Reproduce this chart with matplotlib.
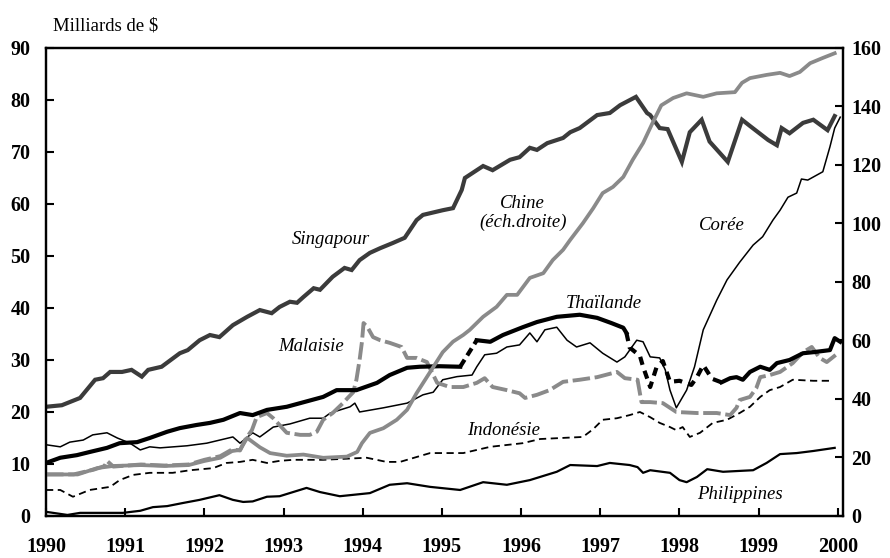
import matplotlib
matplotlib.use("Agg")
import matplotlib.pyplot as plt

# Réserves de change, milliards de $ (Chine sur l'échelle de droite)
sg_x = [1990.0, 1990.2, 1990.43, 1990.62, 1990.72, 1990.81, 1990.96, 1991.08, 1991.21, 1991.29,
        1991.46, 1991.69, 1991.79, 1991.94, 1992.07, 1992.19, 1992.36, 1992.54, 1992.7, 1992.85,
        1992.95, 1993.08, 1993.17, 1993.25, 1993.38, 1993.46, 1993.62, 1993.77, 1993.86, 1993.96,
        1994.09, 1994.22, 1994.38, 1994.53, 1994.68, 1994.76, 1995.01, 1995.14, 1995.25, 1995.29,
        1995.52, 1995.64, 1995.86, 1995.98, 1996.11, 1996.2, 1996.33, 1996.53, 1996.62, 1996.74,
        1996.96, 1997.12, 1997.25, 1997.45, 1997.59, 1997.63, 1997.75, 1997.85, 1998.03, 1998.13,
        1998.28, 1998.38, 1998.61, 1998.79, 1998.89, 1999.12, 1999.23, 1999.29, 1999.39, 1999.56,
        1999.69, 1999.87, 1999.96]
sg_y = [21.0, 21.3, 22.7, 26.2, 26.5, 27.7, 27.7, 28.1, 26.8, 28.1,
        28.7, 31.3, 31.9, 33.8, 34.8, 34.4, 36.7, 38.3, 39.6, 39.0,
        40.2, 41.2, 41.0, 42.1, 43.8, 43.5, 46.0, 47.7, 47.3, 49.2,
        50.6, 51.5, 52.5, 53.5, 56.9, 57.9, 58.8, 59.2, 62.7, 65.0,
        67.3, 66.5, 68.5, 69.0, 70.8, 70.4, 71.7, 72.7, 73.8, 74.6,
        77.1, 77.5, 79.0, 80.6, 77.5, 77.1, 74.6, 74.4, 68.1, 73.8,
        76.2, 72.0, 68.1, 76.2, 75.0, 72.3, 71.3, 74.6, 73.6, 75.6,
        76.2, 74.2, 76.9]

cn_x = [1990.0, 1990.4, 1990.65, 1990.85, 1991.2, 1991.5, 1991.8, 1992.0, 1992.2, 1992.35,
        1992.45, 1992.54, 1992.7, 1992.83, 1993.04, 1993.25, 1993.5, 1993.8, 1993.93, 1993.99,
        1994.09, 1994.26, 1994.43, 1994.56, 1994.68, 1994.85, 1995.01, 1995.14, 1995.27, 1995.35,
        1995.52, 1995.69, 1995.82, 1995.95, 1996.11, 1996.28, 1996.4, 1996.53, 1996.62, 1996.78,
        1996.91, 1997.03, 1997.16, 1997.29, 1997.41, 1997.54, 1997.66, 1997.77, 1997.92, 1998.09,
        1998.3, 1998.47, 1998.7, 1998.79, 1998.89, 1999.1, 1999.27, 1999.39, 1999.52, 1999.65,
        1999.81, 1999.96]
cn_y = [14.2, 14.2, 16.4, 17.1, 17.4, 17.1, 17.4, 18.8, 19.9, 22.2,
        22.6, 26.7, 23.5, 21.5, 20.6, 21.0, 19.9, 20.3, 21.9, 24.9,
        28.4, 30.0, 32.9, 36.3, 42.0, 49.2, 56.0, 59.6, 61.9, 63.6,
        68.1, 71.5, 75.6, 75.6, 81.4, 83.0, 87.5, 91.0, 94.4, 100.1,
        105.2, 110.4, 112.5, 115.9, 121.8, 127.5, 134.4, 140.4, 142.9, 144.5,
        143.3, 144.5, 144.9, 148.1, 149.7, 150.8, 151.5, 150.4, 151.8, 154.8,
        156.6, 158.2]

kr_x = [1990.0, 1990.18, 1990.3, 1990.47, 1990.59, 1990.77, 1990.9, 1991.06, 1991.19, 1991.31,
        1991.44, 1991.78, 1992.03, 1992.36, 1992.45, 1992.61, 1992.7, 1992.87, 1993.08, 1993.33,
        1993.5, 1993.59, 1993.84, 1993.9, 1993.96, 1994.26, 1994.56, 1994.76, 1994.89, 1995.01,
        1995.19, 1995.38, 1995.44, 1995.54, 1995.69, 1995.82, 1995.98, 1996.11, 1996.2, 1996.3,
        1996.45, 1996.58, 1996.7, 1996.87, 1997.03, 1997.21, 1997.31, 1997.46, 1997.54, 1997.63,
        1997.75, 1997.82, 1997.88, 1997.96, 1998.09, 1998.19, 1998.3, 1998.47, 1998.6, 1998.76,
        1998.93, 1999.05, 1999.18, 1999.27, 1999.37, 1999.48, 1999.54, 1999.62, 1999.81, 1999.9,
        1999.96, 2000.03]
kr_y = [13.7, 13.3, 14.2, 14.6, 15.6, 16.0, 15.0, 14.0, 12.7, 13.3,
        13.1, 13.5, 14.0, 15.2, 14.0, 16.0, 15.2, 17.1, 17.7, 18.8,
        18.8, 19.8, 21.0, 21.7, 20.0, 20.8, 21.7, 23.3, 23.8, 26.2,
        26.8, 27.1, 28.7, 31.0, 31.3, 32.5, 32.9, 35.2, 33.5, 35.8,
        36.3, 33.8, 32.5, 33.3, 31.3, 29.6, 30.6, 33.8, 33.5, 30.6,
        30.4, 28.1, 24.2, 20.8, 24.2, 28.7, 35.8, 41.5, 45.4, 48.8,
        52.1, 53.7, 56.9, 58.8, 61.3, 62.1, 64.8, 64.6, 66.2, 71.0,
        74.6, 76.7]

th_x = [1990.0, 1990.18, 1990.39, 1990.55, 1990.77, 1990.93, 1991.15, 1991.31, 1991.53, 1991.69,
        1991.9, 1992.07, 1992.24, 1992.45, 1992.61, 1992.79, 1993.04, 1993.5, 1993.67, 1993.92,
        1994.18, 1994.34, 1994.56, 1994.72, 1994.97, 1995.23, 1995.44, 1995.61, 1995.77, 1996.02,
        1996.2, 1996.45, 1996.74, 1996.96, 1997.14, 1997.29, 1997.33, 1997.37, 1997.5, 1997.54,
        1997.63, 1997.71, 1997.79, 1997.88, 1998.0, 1998.15, 1998.22, 1998.3, 1998.41, 1998.53,
        1998.64, 1998.72, 1998.8, 1998.89, 1999.02, 1999.14, 1999.23, 1999.39, 1999.56, 1999.69,
        1999.9, 1999.96, 2000.03]
th_y = [10.2, 11.2, 11.7, 12.3, 13.1, 14.0, 14.2, 15.0, 16.2, 16.9,
        17.5, 17.9, 18.5, 19.8, 19.4, 20.4, 21.0, 22.9, 24.2, 24.2,
        25.6, 27.1, 28.5, 28.7, 28.8, 28.7, 33.8, 33.5, 34.8, 36.3,
        37.3, 38.3, 38.7, 38.1, 37.1, 36.2, 35.2, 32.4, 30.8, 28.7,
        24.8, 28.6, 29.8, 25.8, 26.0, 25.2, 26.7, 29.0, 26.4, 25.7,
        26.5, 26.7, 26.2, 27.7, 28.7, 28.1, 29.4, 30.0, 31.3, 31.5,
        31.9, 34.2, 33.5]

my_x = [1990.0, 1990.35, 1990.6, 1990.74, 1990.77, 1990.85, 1991.2, 1991.5, 1991.8, 1992.0,
        1992.2, 1992.35, 1992.45, 1992.52, 1992.6, 1992.66, 1992.79, 1992.87, 1993.04, 1993.21,
        1993.33, 1993.42, 1993.5, 1993.62, 1993.75, 1993.81, 1993.88, 1993.92, 1993.96, 1993.99,
        1994.01, 1994.06, 1994.13, 1994.22, 1994.34, 1994.49, 1994.56, 1994.68, 1994.81, 1994.94,
        1995.1, 1995.27, 1995.44, 1995.54, 1995.64, 1995.82, 1995.98, 1996.05, 1996.2, 1996.36,
        1996.53, 1996.74, 1996.96, 1997.21, 1997.31, 1997.47, 1997.52, 1997.63, 1997.79, 1997.96,
        1998.22, 1998.47, 1998.64, 1998.72, 1998.76, 1998.89, 1998.97, 1999.02, 1999.14, 1999.27,
        1999.43, 1999.56, 1999.67, 1999.77, 1999.86, 2000.0]
my_y = [8.0, 8.0, 8.9, 9.6, 10.6, 9.5, 9.9, 9.7, 9.9, 10.8,
        11.5, 12.8, 12.6, 14.8, 16.5, 19.0, 19.8, 18.8, 16.0, 15.6,
        15.6, 16.2, 18.5, 19.8, 21.7, 22.7, 23.8, 26.2, 30.0, 33.5,
        37.1, 36.3, 34.4, 33.8, 33.3, 32.5, 30.4, 30.4, 29.6, 25.6,
        24.8, 24.8, 25.6, 26.5, 24.8, 24.2, 23.6, 22.7, 23.3, 24.2,
        25.8, 26.2, 26.7, 27.7, 26.5, 26.2, 21.9, 21.9, 21.7, 20.0,
        19.8, 19.8, 19.4, 20.8, 22.3, 22.9, 24.6, 26.7, 27.1, 27.7,
        29.4, 31.5, 32.5, 30.4, 29.6, 31.3]

id_x = [1990.0, 1990.18, 1990.34, 1990.55, 1990.81, 1990.93, 1991.1, 1991.31, 1991.6, 1991.82,
        1992.11, 1992.28, 1992.45, 1992.61, 1992.79, 1992.95, 1993.12, 1993.5, 1994.05, 1994.3,
        1994.47, 1994.85, 1995.27, 1995.61, 1996.02, 1996.24, 1996.78, 1996.91, 1997.03, 1997.21,
        1997.37, 1997.5, 1997.63, 1997.75, 1997.88, 1997.96, 1998.04, 1998.13, 1998.26, 1998.42,
        1998.6, 1998.76, 1998.89, 1999.02, 1999.14, 1999.27, 1999.43, 1999.69, 1999.9]
id_y = [5.0, 5.0, 3.7, 5.0, 5.6, 6.9, 7.9, 8.3, 8.3, 8.8,
        9.2, 10.2, 10.4, 10.8, 10.2, 10.6, 10.8, 10.8, 11.2, 10.4,
        10.4, 12.1, 12.1, 13.3, 14.0, 14.8, 15.2, 16.7, 18.5, 18.8,
        19.4, 20.0, 19.0, 17.9, 17.1, 16.5, 17.1, 15.2, 16.0, 17.9,
        18.5, 19.8, 21.0, 22.9, 24.2, 24.8, 26.2, 26.0, 26.0]

ph_x = [1990.0, 1990.27, 1990.43, 1990.97, 1991.19, 1991.35, 1991.53, 1991.73, 1991.94, 1992.19,
        1992.36, 1992.49, 1992.61, 1992.79, 1992.95, 1993.12, 1993.29, 1993.46, 1993.71, 1994.09,
        1994.34, 1994.56, 1994.85, 1995.23, 1995.52, 1995.82, 1996.11, 1996.45, 1996.62, 1996.96,
        1997.12, 1997.37, 1997.47, 1997.54, 1997.63, 1997.88, 1998.0, 1998.09, 1998.22, 1998.35,
        1998.55, 1998.8, 1998.93, 1999.1, 1999.27, 1999.48, 1999.69, 1999.96]
ph_y = [0.8, 0.2, 0.6, 0.6, 1.0, 1.7, 1.9, 2.5, 3.1, 4.0,
        3.1, 2.7, 2.8, 3.7, 3.8, 4.6, 5.4, 4.6, 3.8, 4.4,
        6.0, 6.3, 5.6, 5.0, 6.5, 6.0, 6.9, 8.5, 9.8, 9.6,
        10.2, 9.8, 9.4, 8.3, 8.8, 8.3, 6.9, 6.5, 7.5, 9.0,
        8.5, 8.7, 8.8, 10.2, 11.9, 12.1, 12.5, 13.1]

years = list(range(1990, 2001))
left_ticks = list(range(0, 91, 10))
right_ticks = list(range(0, 161, 20))

plt.rcParams['font.family'] = ['Liberation Serif', 'DejaVu Serif']
plt.rcParams['font.weight'] = 'bold'

dark = '#3b3b3b'
grey = '#8a8a8a'


def part(axis, xs, ys, lo, hi, **kw):
    # trace seulement la portion de la série entre lo et hi
    px = [x for x in xs if lo <= x <= hi]
    py = [y for x, y in zip(xs, ys) if lo <= x <= hi]
    axis.plot(px, py, **kw)


fig = plt.figure(figsize=(8.9, 5.58), dpi=100)
ax = fig.add_axes([0.0517, 0.0753, 0.8955, 0.8387])
ax2 = ax.twinx()

ax.plot(ph_x, ph_y, color='black', lw=1.6, solid_joinstyle='round')
ax.plot(id_x, id_y, color='black', lw=1.3, dashes=(4, 2.5))
ax.plot(kr_x, kr_y, color='black', lw=1.1)
ax.plot(my_x, my_y, color=grey, lw=2.8, dashes=(4.5, 1.2))
part(ax, th_x, th_y, 1989, 1995.23, color='black', lw=3.0)
part(ax, th_x, th_y, 1995.23, 1995.44, color='black', lw=3.0, dashes=(2, 1.2))
part(ax, th_x, th_y, 1995.44, 1997.33, color='black', lw=3.0)
part(ax, th_x, th_y, 1997.33, 1998.53, color='black', lw=3.0, dashes=(2, 1.5))
part(ax, th_x, th_y, 1998.53, 2001, color='black', lw=3.0)
ax.plot(sg_x, sg_y, color=dark, lw=3.0, solid_joinstyle='miter')
ax2.plot(cn_x, cn_y, color=grey, lw=2.7)

ax.set_xlim(1990, 2000.065)
ax.set_ylim(0, 90)
ax2.set_ylim(0, 160)
ax.set_xticks(years)
ax.set_yticks(left_ticks)
ax2.set_yticks(right_ticks)

ax.tick_params(axis='y', direction='in', length=6, width=1.5, labelsize=14.5, pad=11)
ax.tick_params(axis='x', direction='in', length=6, width=1.5, labelsize=14.5, pad=15)
ax2.tick_params(axis='y', direction='in', length=6, width=1.5, labelsize=14.5, pad=6)
for sp in ax.spines.values():
    sp.set_linewidth(1.6)
for sp in ax2.spines.values():
    sp.set_linewidth(1.6)

lab = dict(fontsize=13.5, style='italic', fontweight='normal', ha='center', va='center')
ax.text(1993.6, 53.1, "Singapour", **lab)
ax.text(1996.02, 58.3, "Chine\n(éch.droite)", linespacing=1.15, **lab)
ax.text(1998.54, 55.8, "Corée", **lab)
ax.text(1997.05, 40.8, "Thaïlande", **lab)
ax.text(1993.35, 32.5, "Malaisie", **lab)
ax.text(1995.78, 16.5, "Indonésie", **lab)
ax.text(1998.76, 4.2, "Philippines", **lab)

fig.text(53 / 890, 1 - 26 / 558, "Milliards de $", fontsize=13.5, fontweight='normal',
         ha='left', va='center')

fig.savefig("out.png", dpi=100)
